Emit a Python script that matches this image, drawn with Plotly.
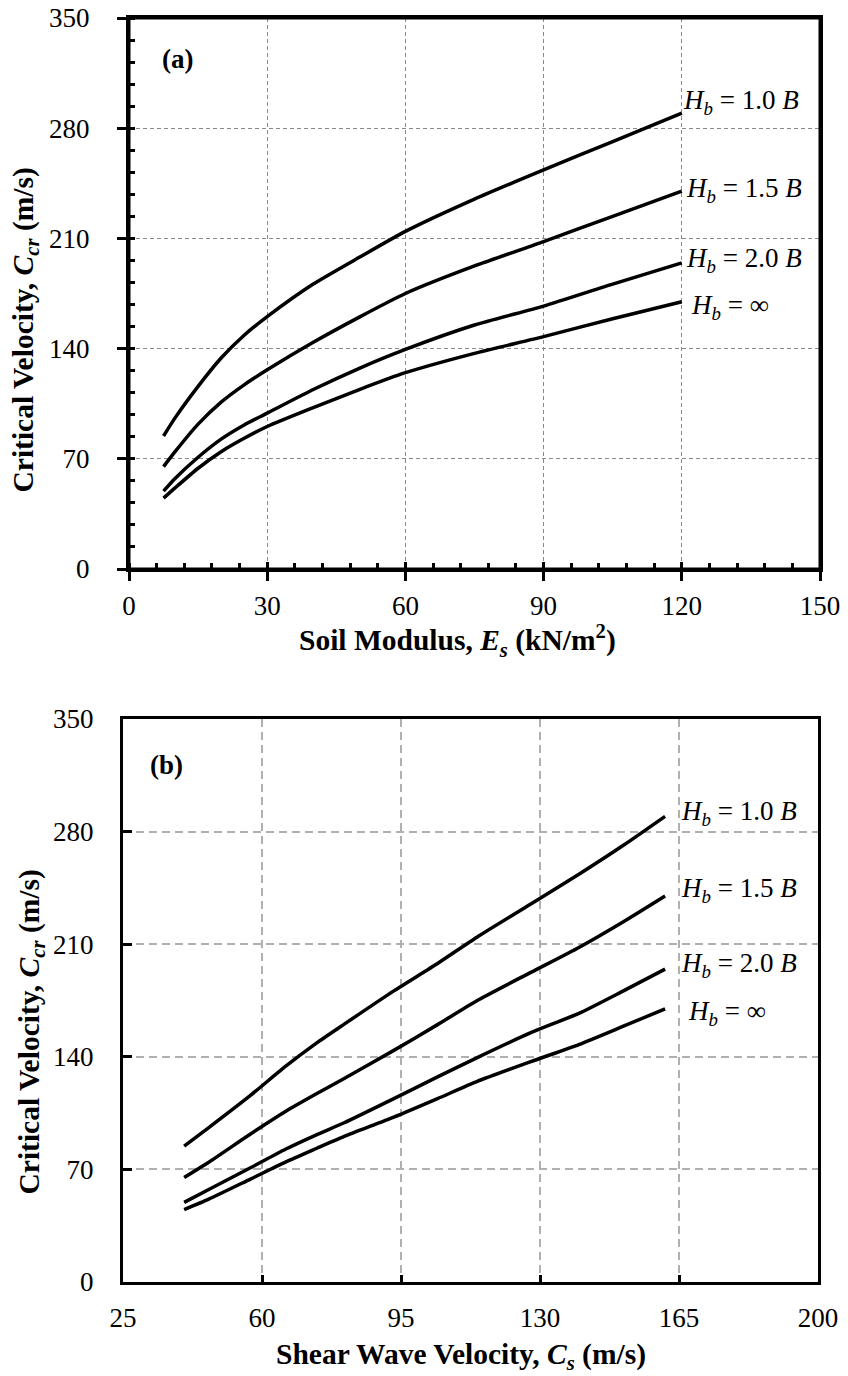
import plotly.graph_objects as go

# page body has an 8px default margin, so the figure is drawn 8px right / 8px down
OFF = 8
W, H = 848 - OFF, 1376 - OFF

# ---- data ----
soil_modulus = [7.5, 10, 15, 20, 25, 30, 40, 50, 60, 75, 90, 105, 120]          # Es (kN/m2)
shear_velocity = [40.4, 46.6, 57.1, 65.9, 73.7, 80.7, 93.2, 104.2, 114.2, 127.7, 139.8, 151.0, 161.5]  # Cs (m/s)
ccr_hb_10 = [84.5, 96, 116, 134, 148.5, 160.3, 181, 198, 214.5, 235, 253.5, 271.5, 289.5]
ccr_hb_15 = [65, 74.5, 92, 106, 117, 126.5, 144, 160, 175, 192.5, 208, 224, 240]
ccr_hb_20 = [49.5, 57.5, 71, 82.5, 91.5, 99, 114, 127.5, 139.5, 155, 167, 181, 194.5]
ccr_hb_inf = [45, 51.5, 64, 74.5, 83, 90.5, 102.5, 114, 124.7, 137, 147.6, 159, 169.8]
series = [ccr_hb_10, ccr_hb_15, ccr_hb_20, ccr_hb_inf]

x_ticks_a = [0, 30, 60, 90, 120, 150]
x_ticks_b = [25, 60, 95, 130, 165, 200]
y_ticks = [0, 70, 140, 210, 280, 350]

labels = ["<i>H</i><sub><i>b</i></sub> = 1.0 <i>B</i>",
          "<i>H</i><sub><i>b</i></sub> = 1.5 <i>B</i>",
          "<i>H</i><sub><i>b</i></sub> = 2.0 <i>B</i>",
          "<i>H</i><sub><i>b</i></sub> = ∞"]

FONT = "Liberation Serif"

def px(x):
    return (x - OFF) / W

def py(y):
    return 1 - (y - OFF) / H

fig = go.Figure()

line_style = dict(color="black", width=3.5, shape="spline", smoothing=0.6)
for s in series:
    fig.add_trace(go.Scatter(x=soil_modulus, y=s, mode="lines", line=line_style,
                             xaxis="x", yaxis="y", showlegend=False, hoverinfo="skip"))
for s in series:
    fig.add_trace(go.Scatter(x=shear_velocity, y=s, mode="lines", line=line_style,
                             xaxis="x2", yaxis="y2", showlegend=False, hoverinfo="skip"))
# empty traces to activate overlay axes (inner part of crossing ticks)
fig.add_trace(go.Scatter(x=[], y=[], xaxis="x3", yaxis="y", showlegend=False, hoverinfo="skip"))
fig.add_trace(go.Scatter(x=[], y=[], xaxis="x", yaxis="y3", showlegend=False, hoverinfo="skip"))

dom_ax = [px(129), px(820)]
dom_ay = [py(569), py(18)]
dom_bx = [px(123), px(818)]
dom_by = [py(1282), py(719)]

tickfont = dict(family=FONT, size=27, color="black")

common_a = dict(showline=True, linewidth=3, linecolor="black", mirror=True,
                ticks="outside", ticklen=9, tickwidth=3, tickcolor="black",
                showgrid=True, gridcolor="#8a8a8a", gridwidth=1, griddash="4px,3px",
                zeroline=False, tickfont=tickfont, automargin=False,
                ticklabeloverflow="allow")
common_b = dict(showline=True, linewidth=3, linecolor="black", mirror=True,
                ticks="inside", tickwidth=3, tickcolor="black",
                showgrid=True, gridcolor="#b0b0b0", gridwidth=1.5, griddash="8px,5px",
                zeroline=False, tickfont=tickfont, automargin=False,
                ticklabeloverflow="allow")

fig.update_layout(
    width=W, height=H,
    margin=dict(l=0, r=0, t=0, b=0),
    paper_bgcolor="white", plot_bgcolor="white",
    showlegend=False,
    font=dict(family=FONT, size=27, color="black"),
    xaxis=dict(domain=dom_ax, anchor="y", range=[0, 150], tickvals=x_ticks_a,
               minor=dict(ticks="inside", dtick=6, tick0=0, ticklen=6, tickwidth=2.5,
                          tickcolor="black", showgrid=False),
               ticklabelstandoff=2, **common_a),
    yaxis=dict(domain=dom_ay, anchor="x", range=[0, 350], tickvals=y_ticks,
               minor=dict(ticks="inside", dtick=14, tick0=0, ticklen=6, tickwidth=2.5,
                          tickcolor="black", showgrid=False),
               ticklabelstandoff=22, **common_a),
    xaxis3=dict(overlaying="x", anchor="y", range=[0, 150], tickvals=x_ticks_a,
                ticks="inside", ticklen=7, tickwidth=3, tickcolor="black",
                showticklabels=False, showgrid=False, showline=False, zeroline=False,
                automargin=False),
    yaxis3=dict(overlaying="y", anchor="x", range=[0, 350], tickvals=y_ticks,
                ticks="inside", ticklen=5, tickwidth=3, tickcolor="black",
                showticklabels=False, showgrid=False, showline=False, zeroline=False,
                automargin=False),
    xaxis2=dict(domain=dom_bx, anchor="y2", range=[25, 200], tickvals=x_ticks_b,
                ticklen=7, ticklabelstandoff=10, **common_b),
    yaxis2=dict(domain=dom_by, anchor="x2", range=[0, 350], tickvals=y_ticks,
                ticklen=9, ticklabelstandoff=21, **common_b),
)

# frame of panel (a)
fig.add_shape(type="rect", xref="x domain", yref="y domain", x0=0, x1=1, y0=0, y1=1,
              line=dict(color="black", width=3), fillcolor="rgba(0,0,0,0)", layer="above")

ann = []
def add_text(text, x, y, size=27, xanchor="center", yanchor="middle", angle=0):
    ann.append(dict(text=text, x=px(x), y=py(y), xref="paper", yref="paper",
                    showarrow=False, xanchor=xanchor, yanchor=yanchor, textangle=angle,
                    font=dict(family=FONT, size=size, color="black")))

# panel letters
add_text("<b>(a)</b>", 177, 59, size=27)
add_text("<b>(b)</b>", 166, 765, size=27)

# axis titles
TS = 29.5
add_text("<b>Soil Modulus, <i>E</i><sub><i>s</i></sub> (kN/m<sup>2</sup>)</b>", 457, 640, size=TS)
add_text("<b>Shear Wave Velocity, <i>C</i><sub><i>s</i></sub> (m/s)</b>", 461, 1356, size=TS)
add_text("<b>Critical Velocity, <i>C</i><sub><i>cr</i></sub> (m/s)</b>", 25, 166, size=TS,
         yanchor="top", angle=-90)
add_text("<b>Critical Velocity, <i>C</i><sub><i>cr</i></sub> (m/s)</b>", 30, 868, size=TS,
         yanchor="top", angle=-90)

# curve labels
top_pos = [(681, 102), (684, 190), (684, 260), (689, 307)]
bot_pos = [(679, 813), (679, 890), (679, 965), (686, 1013)]
for lab, (x, y) in zip(labels, top_pos):
    add_text(lab, x, y, size=27, xanchor="left")
for lab, (x, y) in zip(labels, bot_pos):
    add_text(lab, x, y, size=27, xanchor="left")

fig.update_layout(annotations=ann)
fig.write_html("out.html")
